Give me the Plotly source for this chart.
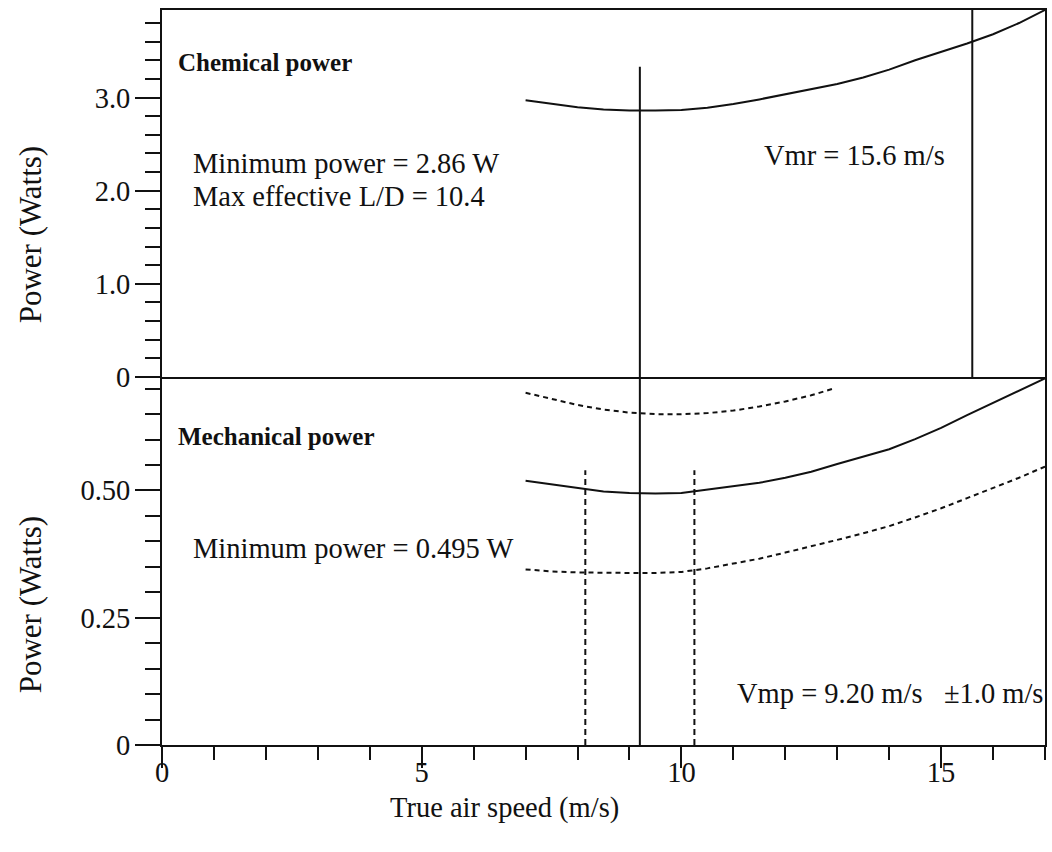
import plotly.graph_objects as go

# ---------------- data ----------------
speed = [7.0, 7.5, 8.0, 8.5, 9.0, 9.5, 10.0, 10.5, 11.0, 11.5, 12.0, 12.5,
         13.0, 13.5, 14.0, 14.5, 15.0, 15.5, 16.0, 16.5, 17.0]
chem_power = [2.97, 2.93, 2.895, 2.873, 2.862, 2.86, 2.866, 2.89, 2.93, 2.98,
              3.035, 3.09, 3.145, 3.215, 3.30, 3.40, 3.49, 3.58, 3.68, 3.80, 3.94]
mech_power = [0.519, 0.512, 0.505, 0.498, 0.495, 0.494, 0.495, 0.502, 0.508,
              0.515, 0.525, 0.537, 0.552, 0.566, 0.581, 0.601, 0.623, 0.648,
              0.672, 0.695, 0.72]
mech_lower = [0.345, 0.341, 0.339, 0.338, 0.338, 0.338, 0.340, 0.347, 0.356,
              0.366, 0.378, 0.390, 0.403, 0.416, 0.430, 0.447, 0.465, 0.485,
              0.505, 0.525, 0.547]
speed_upper = [7.0, 7.5, 8.0, 8.5, 9.0, 9.5, 10.0, 10.5, 11.0, 11.5, 12.0, 12.5, 12.95]
mech_upper = [0.692, 0.680, 0.668, 0.659, 0.653, 0.650, 0.650, 0.652, 0.657,
              0.665, 0.675, 0.687, 0.701]

vmp = 9.2            # minimum power speed
vmp_line_top = 3.33  # top of the Vmp line in the chemical panel
vmr = 15.6           # maximum range speed
vmp_band = [8.15, 10.25]   # dashed band lines
band_top = 0.54

chem_range = [0, 3.94]
mech_range = [0, 0.723]
x_range = [0, 17]

chem_ticks = [0, 1, 2, 3]
chem_ticktext = ["0", "1.0", "2.0", "3.0"]
mech_ticks = [0, 0.25, 0.5]
mech_ticktext = ["0", "0.25", "0.50"]
x_ticks = [0, 5, 10, 15]
x_ticktext = ["0", "5", "10", "15"]

# ---------------- figure ----------------
FONT = "Liberation Serif, Times New Roman, serif"
INK = "#111111"
TXT = 28.5
fig = go.Figure()

line_solid = dict(color=INK, width=2)
line_dash = dict(color=INK, width=2, dash="5px,4px")

# top panel (chemical)
fig.add_trace(go.Scatter(x=speed, y=chem_power, mode="lines", line=line_solid,
                         xaxis="x", yaxis="y", cliponaxis=False))
fig.add_trace(go.Scatter(x=[vmp, vmp], y=[0, vmp_line_top], mode="lines",
                         line=line_solid, xaxis="x", yaxis="y"))
fig.add_trace(go.Scatter(x=[vmr, vmr], y=[0, chem_range[1]], mode="lines",
                         line=line_solid, xaxis="x", yaxis="y"))

# bottom panel (mechanical)
fig.add_trace(go.Scatter(x=speed, y=mech_power, mode="lines", line=line_solid,
                         xaxis="x2", yaxis="y2", cliponaxis=False))
fig.add_trace(go.Scatter(x=speed, y=mech_lower, mode="lines", line=line_dash,
                         xaxis="x2", yaxis="y2"))
fig.add_trace(go.Scatter(x=speed_upper, y=mech_upper, mode="lines", line=line_dash,
                         xaxis="x2", yaxis="y2"))
fig.add_trace(go.Scatter(x=[vmp, vmp], y=[0, mech_range[1]], mode="lines",
                         line=line_solid, xaxis="x2", yaxis="y2"))
for xb in vmp_band:
    fig.add_trace(go.Scatter(x=[xb, xb], y=[0, band_top], mode="lines",
                             line=dict(color=INK, width=2, dash="6px,4px"),
                             xaxis="x2", yaxis="y2"))

split = 0.5007
axis_common = dict(showline=True, linecolor=INK, linewidth=2, showgrid=False,
                   zeroline=False, tickcolor=INK, tickwidth=2,
                   tickfont=dict(family=FONT, size=TXT, color=INK))

fig.update_layout(
    width=1052, height=852,
    margin=dict(l=162, r=5, t=10, b=107),
    paper_bgcolor="white", plot_bgcolor="white",
    showlegend=False,
    font=dict(family=FONT, size=TXT, color=INK),
    xaxis=dict(**axis_common, domain=[0, 1], anchor="y", range=x_range,
               mirror=True, ticks="", showticklabels=False),
    yaxis=dict(**axis_common, domain=[split, 1], anchor="x", range=chem_range,
               mirror=True, ticks="outside", ticklen=25, ticklabelstandoff=-1,
               tickvals=chem_ticks, ticktext=chem_ticktext,
               minor=dict(dtick=0.2, ticks="outside", ticklen=15,
                          tickcolor=INK, tickwidth=2, showgrid=False)),
    xaxis2=dict(**axis_common, domain=[0, 1], anchor="y2", range=x_range,
                mirror=False, ticks="outside", ticklen=21, ticklabelstandoff=-20,
                tickvals=x_ticks, ticktext=x_ticktext,
                minor=dict(dtick=1, ticks="outside", ticklen=13,
                           tickcolor=INK, tickwidth=2, showgrid=False)),
    yaxis2=dict(**axis_common, domain=[0, split], anchor="x2", range=mech_range,
                mirror=True, ticks="outside", ticklen=25, ticklabelstandoff=-1,
                tickvals=mech_ticks, ticktext=mech_ticktext,
                minor=dict(dtick=0.05, ticks="outside", ticklen=15,
                           tickcolor=INK, tickwidth=2, showgrid=False)),
)

def px_to_paper(px, py):
    return (px - 162) / 885, (745 - py) / 735

def note(text, px, py, size=TXT, anchor="left", angle=0):
    x, y = px_to_paper(px, py)
    fig.add_annotation(text=text, x=x, y=y, xref="paper", yref="paper",
                       xanchor=anchor, yanchor="middle", showarrow=False,
                       textangle=angle,
                       font=dict(family=FONT, size=size, color=INK))

note("<b>Chemical power</b>", 176, 62, size=25)
note("Minimum power = 2.86 W", 191, 163)
note("Max effective L/D = 10.4", 191, 196)
note("Vmr = 15.6 m/s", 763, 155)
note("<b>Mechanical power</b>", 176, 437, size=25)
note("Minimum power = 0.495 W", 191, 548)
note("Vmp = 9.20 m/s\u00a0\u00a0\u00a0±1.0 m/s", 736, 693)
note("Power (Watts)", 30, 235, size=31, anchor="center", angle=-90)
note("Power (Watts)", 30, 605, size=31, anchor="center", angle=-90)
note("True air speed (m/s)", 505, 808, anchor="center")

fig.write_html("out.html")
